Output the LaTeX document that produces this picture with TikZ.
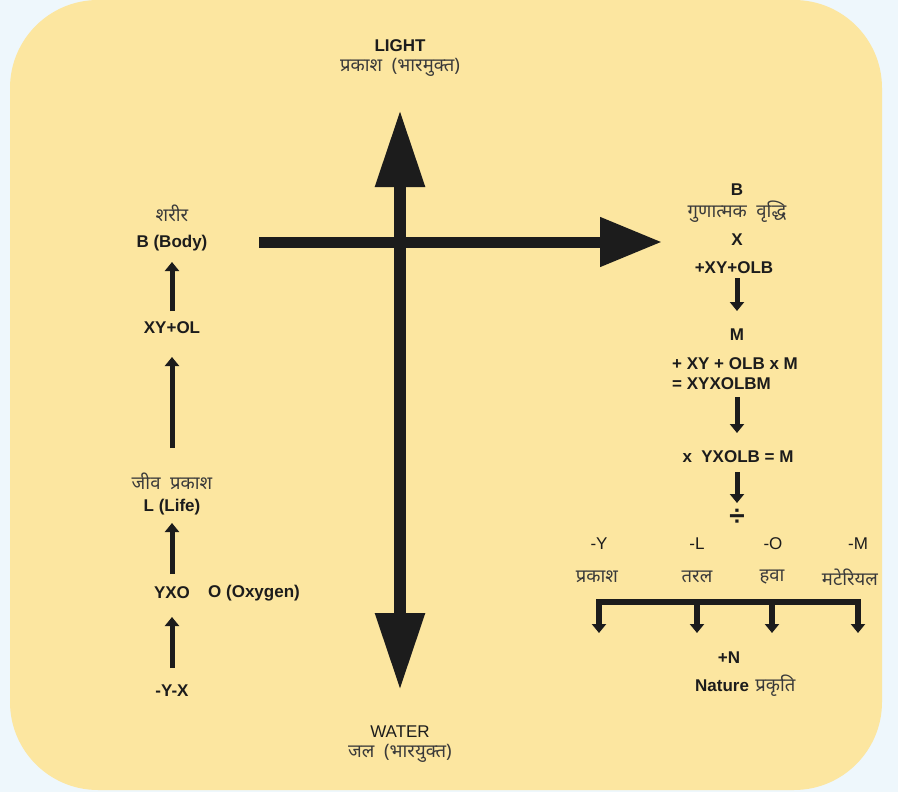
\documentclass[tikz,border=0pt]{standalone}
\usepackage{fontspec}
\setmainfont{Liberation Sans}
\newfontfamily\dev[Script=Devanagari]{Noto Sans}
\usetikzlibrary{arrows.meta}
\definecolor{bg}{HTML}{EEF7FC}
\definecolor{panel}{HTML}{FCE6A0}
\definecolor{ink}{HTML}{1C1C1C}
\definecolor{devink}{HTML}{3A3A3A}
\begin{document}
\begin{tikzpicture}[x=1pt,y=-1pt,
  lat/.style={font=\fontsize{17}{19}\selectfont\bfseries, text=ink, inner sep=0pt},
  latn/.style={font=\fontsize{17}{19}\selectfont, text=ink, inner sep=0pt},
  hin/.style={font=\dev\fontsize{18.5}{20}\selectfont, text=devink, inner sep=0pt},
  bigarrow/.style={line width=12pt, draw=ink, -{Triangle[width=47pt,length=77pt]}},
  bigarrowh/.style={line width=11pt, draw=ink, -{Triangle[width=47pt,length=62pt]}},
  smallarrow/.style={line width=5pt, draw=ink, -{Triangle[width=14pt,length=9pt]}},
]
\useasboundingbox (0,0) rectangle (898,792);
\fill[bg] (0,0) rectangle (898,792);
\fill[panel, rounded corners=88pt] (10,0) rectangle (882,790);

% central axes
\coordinate (vc) at (400,400);
\coordinate (vtop) at (400,110);
\coordinate (vbot) at (400,690);
\coordinate (hstart) at (259,242);
\coordinate (htip) at (662,242);
\draw[bigarrow] (vc) -- (vtop);
\draw[bigarrow] (vc) -- (vbot);
\draw[bigarrowh] (hstart) -- (htip);

\node[lat] (light) at (400,46) {LIGHT};
\node[hin] (lighth) at (400,67) {प्रकाश\ \ (भारमुक्त)};
\node[latn] (water) at (400,732) {WATER};
\node[hin] (waterh) at (400,753) {जल\ \ (भारयुक्त)};

% left column
\node[hin] (sharir) at (172,213) {शरीर};
\node[lat] (body) at (172,243) {B (Body)};
\node[lat] (xyol) at (172,328) {XY+OL};
\node[hin] (jeev) at (172,481) {जीव\ \ प्रकाश};
\node[lat] (life) at (172,507) {L (Life)};
\node[lat] (yxo) at (172,593) {YXO};
\node[lat] (oxy) at (254,593) {O (Oxygen)};
\node[lat] (yx) at (172,691) {-Y-X};

\coordinate (a1s) at (172,311);
\coordinate (a1e) at (172,262);
\coordinate (a2s) at (172,448);
\coordinate (a2e) at (172,357);
\coordinate (a3s) at (172,574);
\coordinate (a3e) at (172,523);
\coordinate (a4s) at (172,668);
\coordinate (a4e) at (172,617);
\draw[smallarrow] (a1s) -- (a1e);
\draw[smallarrow] (a2s) -- (a2e);
\draw[smallarrow] (a3s) -- (a3e);
\draw[smallarrow] (a4s) -- (a4e);

% right column
\node[lat] (rb) at (737,190) {B};
\node[hin] (gun) at (737,212) {गुणात्मक\ \ वृद्धि};
\node[lat] (rx) at (737,240) {X};
\node[lat] (xyolb) at (734,268) {+XY+OLB};
\node[lat] (rm) at (737,335) {M};
\node[lat, anchor=west] (eq1) at (672,364) {+ XY + OLB x M};
\node[lat, anchor=west] (eq2) at (672,384) {= XYXOLBM};
\node[lat] (eq3) at (738,457) {x\ \ YXOLB = M};
\node[lat, font=\fontsize{28}{30}\selectfont\bfseries] (div) at (737,517) {÷};

\coordinate (b1s) at (737,278);
\coordinate (b1e) at (737,311);
\coordinate (b2s) at (737,397);
\coordinate (b2e) at (737,433);
\coordinate (b3s) at (737,472);
\coordinate (b3e) at (737,503);
\draw[smallarrow] (b1s) -- (b1e);
\draw[smallarrow] (b2s) -- (b2e);
\draw[smallarrow] (b3s) -- (b3e);

\node[latn] (my) at (599,544) {-Y};
\node[latn] (ml) at (697,544) {-L};
\node[latn] (mo) at (773,544) {-O};
\node[latn] (mm) at (858,544) {-M};
\node[hin] (hp) at (597,577) {प्रकाश};
\node[hin] (ht) at (697,577) {तरल};
\node[hin] (hh) at (772,577) {हवा};
\node[hin] (hm) at (850,577) {मटेरियल};

\coordinate (k1) at (599,602);
\coordinate (k2) at (697,602);
\coordinate (k3) at (772,602);
\coordinate (k4) at (858,602);
\coordinate (d1) at (599,633);
\coordinate (d2) at (697,633);
\coordinate (d3) at (772,633);
\coordinate (d4) at (858,633);
\draw[line width=6pt, draw=ink] ([xshift=-2.75pt]k1) -- ([xshift=2.75pt]k4);
\draw[smallarrow, line width=5.5pt] ([yshift=-3pt]k1) -- (d1);
\draw[smallarrow, line width=5.5pt] (k2) -- (d2);
\draw[smallarrow, line width=5.5pt] (k3) -- (d3);
\draw[smallarrow, line width=5.5pt] ([yshift=-3pt]k4) -- (d4);

\node[lat] (plusn) at (729,658) {+N};
\node[lat, anchor=west] (nature) at (695,686) {Nature};
\node[hin, anchor=west] (prakriti) at (nature.east) {\hspace{6pt}प्रकृति};
\end{tikzpicture}
\end{document}
